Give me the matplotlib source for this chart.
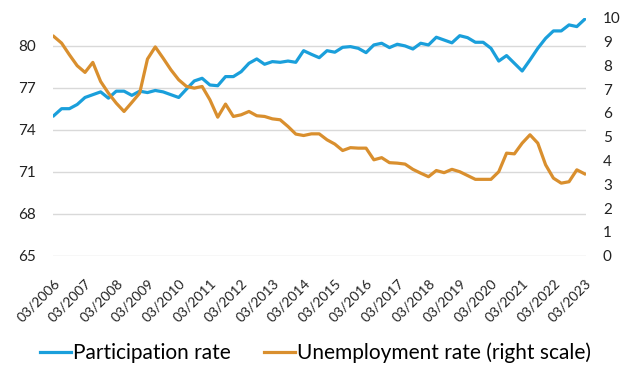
import matplotlib.pyplot as plt
import matplotlib.transforms as mtransforms
import numpy as np

# quarterly data, 03/2006 .. 03/2023
participation = [75.0, 75.5, 75.5, 75.8, 76.3, 76.5, 76.7, 76.25,
                 76.75, 76.75, 76.45, 76.75, 76.65, 76.8, 76.7, 76.5,
                 76.3, 76.9, 77.48, 77.67, 77.19, 77.14, 77.79, 77.79,
                 78.14, 78.74, 79.05, 78.67, 78.86, 78.81, 78.9, 78.81,
                 79.64, 79.38, 79.14, 79.64, 79.53, 79.88, 79.93, 79.81,
                 79.5, 80.05, 80.17, 79.86, 80.1, 79.98, 79.76, 80.17,
                 80.05, 80.6, 80.4, 80.2, 80.71, 80.57, 80.24, 80.24,
                 79.81, 78.9, 79.29, 78.74, 78.19, 78.98, 79.81, 80.52,
                 81.05, 81.05, 81.48, 81.36, 81.88]
unemployment = [9.21, 8.93, 8.44, 7.98, 7.7, 8.12, 7.32, 6.83,
                6.41, 6.06, 6.44, 6.83, 8.26, 8.77, 8.3, 7.81,
                7.39, 7.11, 7.04, 7.11, 6.55, 5.82, 6.37, 5.85,
                5.92, 6.06, 5.88, 5.85, 5.75, 5.71, 5.43, 5.11,
                5.05, 5.12, 5.12, 4.87, 4.69, 4.42, 4.54, 4.52,
                4.52, 4.03, 4.12, 3.91, 3.89, 3.85, 3.63, 3.47,
                3.32, 3.58, 3.49, 3.63, 3.53, 3.37, 3.21, 3.21,
                3.21, 3.53, 4.31, 4.28, 4.73, 5.08, 4.73, 3.82,
                3.26, 3.05, 3.11, 3.61, 3.44]
years = list(range(2006, 2024))
tick_labels = ['03/%d' % y for y in years]

blue = '#1a9fdb'
orange = '#d98f2e'
plt.rcParams['font.family'] = ['Lato', 'DejaVu Sans']

x = np.arange(len(participation))

fig = plt.figure(figsize=(6.31, 3.67), dpi=100)
ax = fig.add_axes([0.084, 0.303, 0.845, 0.649])
ax2 = ax.twinx()

l1, = ax.plot(x, participation, color=blue, lw=2.3, label='Participation rate')
l2, = ax2.plot(x, unemployment, color=orange, lw=2.3,
               label='Unemployment rate (right scale)')

ax.set_ylim(65, 82)
ax.set_yticks([65, 68, 71, 74, 77, 80])
ax2.set_ylim(0, 10)
ax2.set_yticks(range(0, 11))
ax.set_xlim(-0.1, 68.2)
ax.set_xticks(x[::4])
ax.set_xticklabels(tick_labels, rotation=45, ha='right', rotation_mode='anchor',
                   fontsize=10)
shift = mtransforms.ScaledTranslation(4 / 72, 0, fig.dpi_scale_trans)
for lab in ax.get_xticklabels():
    lab.set_transform(lab.get_transform() + shift)

ax.grid(axis='y', color='#d9d9d9', lw=1)
ax.set_axisbelow(True)
for a in (ax, ax2):
    for s in a.spines.values():
        s.set_visible(False)
    a.tick_params(axis='y', length=0, labelsize=11, colors='#222222', pad=12)
ax.tick_params(axis='x', length=0, colors='#222222', pad=15)

fig.legend(handles=[l1, l2], loc='center', bbox_to_anchor=(0.5, 14 / 367),
           ncol=2, frameon=False, fontsize=15, handlelength=1.5,
           handletextpad=0.1, columnspacing=1.6)

fig.savefig('out.png', dpi=100)
